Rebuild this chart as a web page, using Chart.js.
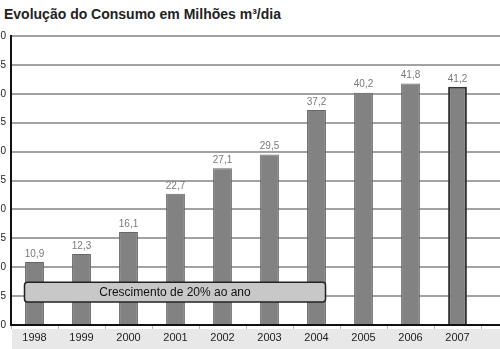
<!DOCTYPE html>
<html>
<head>
<meta charset="utf-8">
<script src="https://cdn.jsdelivr.net/npm/chart.js@4"></script>
<style>
  html, body { margin: 0; padding: 0; background: #fff; overflow: hidden; }
  body { width: 500px; height: 349px; position: relative; }
  #title {
    position: absolute; left: 4px; top: 6px;
    font: bold 14px "Liberation Sans", Arial, sans-serif; color: #222;
    white-space: nowrap;
  }
  #wrap { position: absolute; left: -20px; top: 0; width: 548px; height: 349px; }
</style>
</head>
<body>
<div id="title">Evolução do Consumo em Milhões m³/dia</div>
<div id="wrap"><canvas id="chart" width="548" height="349"></canvas></div>
<script>
const years = ['1998', '1999', '2000', '2001', '2002', '2003', '2004', '2005', '2006', '2007'];
const consumo = [10.9, 12.3, 16.1, 22.7, 27.1, 29.5, 37.2, 40.2, 41.8, 41.2];
const yTicks = [0, 5, 10, 15, 20, 25, 30, 35, 40, 45, 50];
const noteText = 'Crescimento de 20% ao ano';

// an empty slot after 2007 so the plot runs off the right edge like the original
const labels = years.concat(['']);
const values = consumo.concat([null]);
const lastIdx = consumo.length - 1;

const bandPlugin = {
  id: 'band',
  beforeDraw(chart) {
    const { ctx, chartArea } = chart;
    ctx.save();
    ctx.fillStyle = '#e8e8e8';
    ctx.fillRect(chartArea.left + 1, chartArea.bottom + 4, chart.width, chart.height);
    ctx.restore();
  }
};

const valueLabels = {
  id: 'valueLabels',
  afterDatasetsDraw(chart) {
    const { ctx } = chart;
    const meta = chart.getDatasetMeta(0);
    ctx.save();
    ctx.font = '10px "Liberation Sans", Arial, sans-serif';
    ctx.fillStyle = '#7a7a7a';
    ctx.textAlign = 'center';
    ctx.textBaseline = 'bottom';
    meta.data.forEach(function(bar, i) {
      if (consumo[i] == null) return;
      ctx.fillText(consumo[i].toFixed(1).replace('.', ','), bar.x, bar.y - 3);
    });
    ctx.restore();
  }
};

const notePlugin = {
  id: 'note',
  afterDatasetsDraw(chart) {
    const { ctx } = chart;
    const xs = chart.scales.x, ys = chart.scales.y;
    const left = xs.getPixelForValue(0) - 10;
    const right = xs.getPixelForValue(6) + 9;
    const top = ys.getPixelForValue(7.4);
    const bottom = ys.getPixelForValue(4.0);
    ctx.save();
    ctx.beginPath();
    ctx.roundRect(left, top, right - left, bottom - top, 3);
    ctx.fillStyle = '#c8c8c8';
    ctx.fill();
    ctx.lineWidth = 1.5;
    ctx.strokeStyle = '#222';
    ctx.stroke();
    ctx.font = '12px "Liberation Sans", Arial, sans-serif';
    ctx.fillStyle = '#111';
    ctx.textAlign = 'center';
    ctx.textBaseline = 'middle';
    ctx.fillText(noteText, (left + right) / 2, (top + bottom) / 2 + 1);
    ctx.restore();
  }
};

new Chart(document.getElementById('chart'), {
  type: 'bar',
  data: {
    labels: labels,
    datasets: [{
      data: values,
      backgroundColor: '#828282',
      borderColor: function(c) { return c.dataIndex === lastIdx ? '#333' : '#666'; },
      borderWidth: function(c) { return c.dataIndex === lastIdx ? 2 : 1; },
      barPercentage: 0.4,
      categoryPercentage: 1
    }]
  },
  options: {
    responsive: false,
    animation: false,
    layout: { padding: { top: 36, right: 0, left: 0, bottom: 0 } },
    plugins: { legend: { display: false }, tooltip: { enabled: false } },
    scales: {
      x: {
        afterFit: function(s) { s.height = 24; },
        grid: { drawOnChartArea: false, drawTicks: true, tickLength: 4, color: '#bbb', offset: true },
        border: { color: '#111', width: 2 },
        ticks: {
          color: '#222', padding: 2,
          font: { family: '"Liberation Sans", Arial, sans-serif', size: 11 }
        }
      },
      y: {
        min: 0, max: 50,
        afterFit: function(s) { s.width = 31; },
        afterBuildTicks: function(s) { s.ticks = yTicks.map(function(v) { return { value: v }; }); },
        grid: { color: '#a2a2a2', lineWidth: 2, drawTicks: false },
        border: { color: '#111', width: 2 },
        ticks: {
          color: '#222', padding: 5,
          font: { family: '"Liberation Sans", Arial, sans-serif', size: 10 }
        }
      }
    }
  },
  plugins: [bandPlugin, valueLabels, notePlugin]
});
</script>
</body>
</html>
